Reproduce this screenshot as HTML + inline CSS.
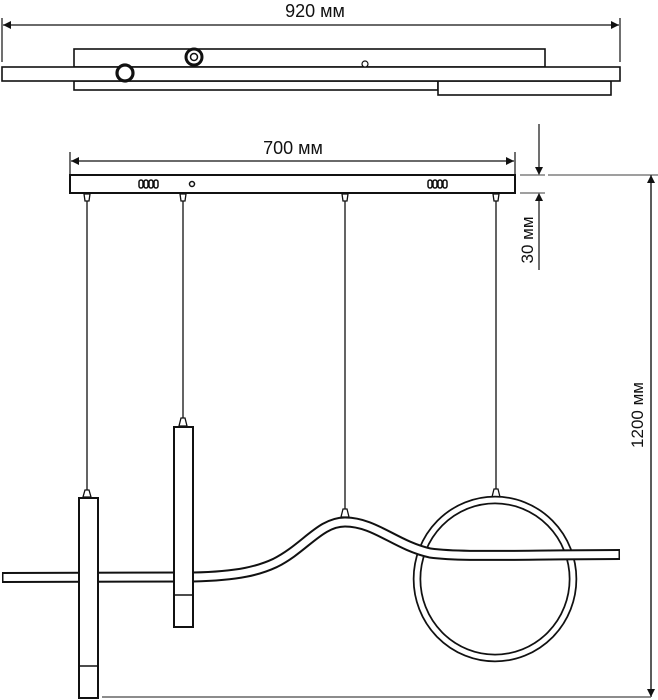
<!DOCTYPE html>
<html><head><meta charset="utf-8"><style>html,body{margin:0;padding:0;background:#fff}svg{display:block}text{font-family:"Liberation Sans",sans-serif;fill:#111}</style></head><body>
<svg width="658" height="700" viewBox="0 0 658 700" xmlns="http://www.w3.org/2000/svg">
<defs>
<marker id="a" viewBox="0 0 10 10" refX="10" refY="5" markerWidth="8" markerHeight="8" orient="auto-start-reverse" markerUnits="userSpaceOnUse"><path d="M0,0L10,5L0,10z" fill="#111"/></marker>
</defs>
<g stroke="#111" fill="none" stroke-width="1.2">
<line x1="2" y1="18" x2="2" y2="62"/><line x1="620" y1="18" x2="620" y2="62"/>
<line x1="3" y1="25" x2="619" y2="25" marker-start="url(#a)" marker-end="url(#a)"/>
<rect x="74" y="49" width="471" height="18" fill="#fff" stroke-width="1.6"/>
<rect x="74" y="81" width="364" height="9" fill="#fff" stroke-width="1.6"/>
<rect x="438" y="81" width="173" height="14" fill="#fff" stroke-width="1.6"/>
<rect x="2" y="67" width="618" height="14" fill="#fff" stroke-width="1.6"/>
<circle cx="365" cy="64" r="3" fill="#fff"/>
<circle cx="125" cy="73" r="8" fill="#fff" stroke-width="3.2"/>
<circle cx="194" cy="57" r="8" fill="#fff" stroke-width="3"/>
<circle cx="194" cy="57" r="3.5" stroke-width="1.5"/>
<line x1="70" y1="152" x2="70" y2="176"/><line x1="515" y1="152" x2="515" y2="176"/>
<line x1="71" y1="161" x2="514" y2="161" marker-start="url(#a)" marker-end="url(#a)"/>
<rect x="70" y="175" width="445" height="18" fill="#fff" stroke-width="2"/>
<g stroke-width="1.5">
<rect x="139" y="180" width="4" height="8" rx="2"/><rect x="144" y="180" width="4" height="8" rx="2"/><rect x="149" y="180" width="4" height="8" rx="2"/><rect x="154" y="180" width="4" height="8" rx="2"/>
<rect x="428" y="180" width="4" height="8" rx="2"/><rect x="433" y="180" width="4" height="8" rx="2"/><rect x="438" y="180" width="4" height="8" rx="2"/><rect x="443" y="180" width="4" height="8" rx="2"/>
<circle cx="192" cy="184" r="2.5"/>
</g>
<g stroke-width="1.3">
<path d="M84,194 L90,194 L89,201 L85,201 Z"/><path d="M180,194 L186,194 L185,201 L181,201 Z"/><path d="M342,194 L348,194 L347,201 L343,201 Z"/><path d="M493,194 L499,194 L498,201 L494,201 Z"/>
<line x1="87" y1="201" x2="87" y2="490"/><line x1="183" y1="201" x2="183" y2="418"/><line x1="345" y1="201" x2="345" y2="509"/><line x1="496" y1="201" x2="496" y2="489"/>
<path d="M85,490 L89,490 L91,497 L83,497 Z" fill="#fff"/><path d="M181,418 L185,418 L187,426 L179,426 Z" fill="#fff"/><path d="M343,509 L347,509 L349,517 L341,517 Z" fill="#fff"/><path d="M494,489 L498,489 L500,497 L492,497 Z" fill="#fff"/>
</g>
<line x1="539" y1="124" x2="539" y2="175" marker-end="url(#a)"/>
<line x1="539" y1="270" x2="539" y2="193" marker-end="url(#a)"/>
<line x1="520" y1="175" x2="545" y2="175" stroke="#666"/><line x1="520" y1="193" x2="545" y2="193" stroke="#666"/>
<line x1="548" y1="175" x2="658" y2="175" stroke="#666"/>
<line x1="651" y1="697" x2="651" y2="175" marker-end="url(#a)"/>
<line x1="651" y1="180" x2="651" y2="697" marker-end="url(#a)"/>
<line x1="102" y1="697" x2="651" y2="697" stroke="#666" stroke-width="1.5"/>
<ellipse cx="495" cy="579" rx="78" ry="79" stroke-width="8.5"/>
<ellipse cx="495" cy="579" rx="78" ry="79" stroke="#fff" stroke-width="5"/>
<path d="M2,577.5 L193,577 C240,576 260,570 275,563 C305,548 320,522 345,522 C375,522 395,545 430,553 C460,557 500,555 620,554.5" stroke-width="11"/>
<path d="M3.5,577.5 L193,577 C240,576 260,570 275,563 C305,548 320,522 345,522 C375,522 395,545 430,553 C460,557 500,555 618.5,554.5" stroke="#fff" stroke-width="7"/>
<rect x="79" y="498" width="19" height="200" fill="#fff" stroke-width="2"/>
<line x1="79" y1="666" x2="98" y2="666" stroke-width="1.6"/>
<rect x="174" y="427" width="19" height="200" fill="#fff" stroke-width="2"/>
<line x1="174" y1="595" x2="193" y2="595" stroke-width="1.6"/>
</g>
<text x="315" y="17" font-size="18" text-anchor="middle">920 мм</text>
<text x="293" y="154" font-size="18" text-anchor="middle">700 мм</text>
<text transform="translate(533,240) rotate(-90)" font-size="17" text-anchor="middle">30 мм</text>
<text transform="translate(643,415) rotate(-90)" font-size="17" text-anchor="middle">1200 мм</text>
</svg>
</body></html>
